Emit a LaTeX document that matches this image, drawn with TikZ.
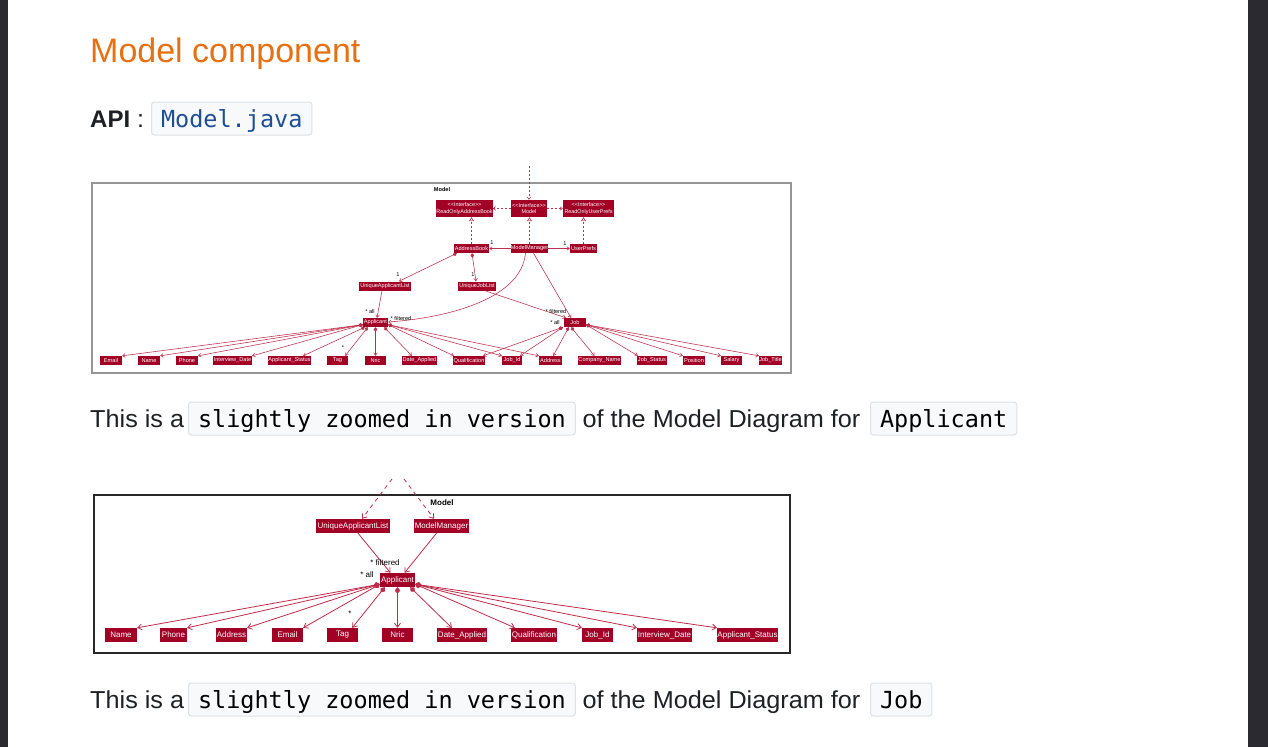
\documentclass[tikz,border=0pt]{standalone}
\usepackage{fontspec}
\setmainfont{Liberation Sans}
\newfontfamily\codefont{DejaVu Sans Mono}
\newfontfamily\bodyfont[FakeStretch=1.03]{Liberation Sans}
\usetikzlibrary{arrows.meta}
\definecolor{umlred}{RGB}{163,0,38}
\definecolor{umlline}{RGB}{190,45,75}
\definecolor{darkbar}{RGB}{43,42,48}
\definecolor{titleorange}{RGB}{230,112,18}
\definecolor{bodytext}{RGB}{30,32,36}
\definecolor{codebg}{RGB}{248,249,250}
\definecolor{codeborder}{RGB}{222,225,229}
\definecolor{codeblue}{RGB}{30,78,150}
\definecolor{frameone}{RGB}{150,150,150}
\definecolor{frametwo}{RGB}{40,40,40}
\tikzset{
  n1/.style={fill=umlred, text=white, inner sep=0pt, minimum height=9pt, font=\fontsize{5.6}{6}\selectfont, align=center},
  n2/.style={fill=umlred, text=white, inner sep=0pt, minimum height=14pt, font=\fontsize{8}{9}\selectfont},
  l1/.style={font=\fontsize{5.6}{6}\selectfont, inner sep=0pt, text=black},
  l2/.style={font=\fontsize{8}{9}\selectfont, inner sep=0pt, text=black},
  e1/.style={draw=umlline, line width=0.55pt},
  asc1/.style={e1, -{Straight Barb[length=2.5pt,width=3.6pt]}},
  cmp1/.style={e1, {Diamond[length=4.5pt,width=3.6pt]}-{Straight Barb[length=2.5pt,width=3.6pt]}},
  dep1/.style={e1, dash pattern=on 2pt off 2pt, -{Straight Barb[length=2.5pt,width=3.6pt]}},
  real1/.style={e1, dash pattern=on 2pt off 2pt, -{Triangle[open, length=4pt, width=5pt, fill=white]}},
  e2/.style={draw=umlline, line width=0.8pt},
  asc2/.style={e2, -{Straight Barb[length=4pt,width=6pt]}},
  cmp2/.style={e2, {Diamond[length=6.5pt,width=5.5pt]}-{Straight Barb[length=4pt,width=6pt]}},
  dep2/.style={e2, dash pattern=on 4pt off 4pt, -{Straight Barb[length=4pt,width=6pt]}},
  codebox/.style={draw=codeborder, fill=codebg, rounded corners=3pt, line width=1pt, inner xsep=9.5pt, inner ysep=6pt, text height=19pt, text depth=2pt, anchor=base west, font=\codefont\fontsize{23.5}{26}\selectfont},
  body/.style={anchor=base west, inner sep=0pt, text=bodytext, font=\bodyfont\fontsize{24.5}{28}\selectfont},
}
\begin{document}
\begin{tikzpicture}[x=1pt,y=-1pt]
\useasboundingbox (0,0) rectangle (1268,747);
\fill[white] (0,0) rectangle (1268,747);
\fill[darkbar] (0,0) rectangle (8,747);
\fill[darkbar] (1248,0) rectangle (1268,747);

% ---------- header ----------
\node[anchor=base west, inner sep=0pt, text=titleorange, font=\fontsize{34}{40}\selectfont] (title) at (90,62) {Model component};
\node[body, font=\bfseries\fontsize{24}{28}\selectfont] (api) at (90,127) {API};
\node[body] (colon) at (137,127) {:};
\node[codebox, text=codeblue] (apicode) at (151,127) {Model.java};

% ---------- diagram 1 ----------
\node[draw=frameone, line width=1.5pt, minimum width=699pt, minimum height=190pt, inner sep=0pt] (pkg1) at (441.5,278) {};
\node[l1, font=\bfseries\fontsize{5.6}{6}\selectfont] (pkg1name) at (442,189) {Model};

\node[n1, minimum width=55pt, minimum height=17pt, font=\fontsize{5.4}{6.3}\selectfont] (rab) at (464.5,208.5) {<{}<Interface>{}>\\ReadOnlyAddressBook};
\node[n1, minimum width=36pt, minimum height=17pt, font=\fontsize{5.4}{6.3}\selectfont] (model) at (529,208.5) {<{}<Interface>{}>\\Model};
\node[n1, minimum width=51pt, minimum height=17pt, font=\fontsize{5.4}{6.3}\selectfont] (rup) at (588.5,208.5) {<{}<Interface>{}>\\ReadOnlyUserPrefs};
\node[n1, minimum width=35pt] (ab) at (471.5,248.5) {AddressBook};
\node[n1, minimum width=37pt] (mm) at (529.5,248.5) {ModelManager};
\node[n1, minimum width=27pt] (up) at (583.5,248.5) {UserPrefs};
\node[n1, minimum width=52pt] (ual) at (385,286) {UniqueApplicantList};
\node[n1, minimum width=38pt] (ujl) at (477,286) {UniqueJobList};
\node[n1, minimum width=25pt] (app) at (375.5,322.5) {Applicant};
\node[n1, minimum width=22pt] (job) at (575,322.5) {Job};

\node[n1, minimum width=22pt] (email) at (111,360.5) {Email};
\node[n1, minimum width=22pt] (name) at (149,360.5) {Name};
\node[n1, minimum width=22pt] (phone) at (187,360.5) {Phone};
\node[n1, minimum width=39pt] (idate) at (232.5,360.5) {Interview\_Date};
\node[n1, minimum width=43pt] (astatus) at (289.5,360.5) {Applicant\_Status};
\node[n1, minimum width=21pt] (tag) at (337.5,360.5) {Tag};
\node[n1, minimum width=21pt] (nric) at (375.5,360.5) {Nric};
\node[n1, minimum width=35pt] (dapp) at (419.5,360.5) {Date\_Applied};
\node[n1, minimum width=32pt] (qual) at (469,360.5) {Qualification};
\node[n1, minimum width=20pt] (jobid) at (512,360.5) {Job\_Id};
\node[n1, minimum width=23pt] (addr) at (550.5,360.5) {Address};
\node[n1, minimum width=43pt] (cname) at (599.5,360.5) {Company\_Name};
\node[n1, minimum width=30pt] (jstatus) at (652,360.5) {Job\_Status};
\node[n1, minimum width=22pt] (pos) at (694,360.5) {Position};
\node[n1, minimum width=21pt] (sal) at (731.5,360.5) {Salary};
\node[n1, minimum width=23pt] (jtitle) at (770.5,360.5) {Job\_Title};

\coordinate (top1) at (529,166);
\draw[dep1] (top1) -- (model.north);
\draw[dep1] (model.west) -- (rab.east);
\draw[dep1] (model.east) -- (rup.west);
\draw[real1] (ab.north) -- (ab.north |- rab.south);
\draw[real1] (mm.north) -- (mm.north |- model.south);
\draw[real1] (up.north) -- (up.north |- rup.south);
\draw[asc1] (mm.west) -- (ab.east);
\draw[asc1] (mm.east) -- (up.west);
\draw[cmp1] ([xshift=3pt]ab.south west) -- ([xshift=14pt]ual.north);
\draw[cmp1] ([xshift=0.5pt]ab.south) -- ([xshift=-1pt]ujl.north);
\draw[asc1] ([xshift=-3pt]ual.south) -- ([xshift=1.5pt]app.north);
\draw[asc1] ([xshift=-4pt]mm.south) .. controls (521,300) and (445,318) .. ([yshift=0.5pt]app.east);
\draw[asc1] ([xshift=4pt]mm.south) -- ([xshift=-4pt]job.north);
\draw[asc1] ([xshift=8pt]ujl.south) -- ([xshift=2pt]job.north west);

\node[l1] (lab1) at (492,243) {1};
\node[l1] (lup1) at (565,244) {1};
\node[l1] (lual1) at (398,275) {1};
\node[l1] (lujl1) at (473,275) {1};
\node[l1] (lappall) at (370,311) {* all};
\node[l1] (lappfil) at (401,318.5) {* filtered};
\node[l1] (ljobfil) at (556,311) {* filtered};
\node[l1] (ljoball) at (555,322) {* all};
\node[l1] (ltag1) at (343,348) {*};

% Applicant compositions
\draw[cmp1] ([yshift=2.5pt]app.south west) -- (email.north east);
\draw[cmp1] ([yshift=2.5pt]app.south west) -- (name.north east);
\draw[cmp1] ([yshift=2.5pt]app.south west) -- (phone.north east);
\draw[cmp1] ([yshift=2.5pt]app.south west) -- (idate.north east);
\draw[cmp1] ([xshift=2pt]app.south west) -- ([xshift=-8pt]astatus.north east);
\draw[cmp1] ([xshift=5pt]app.south west) -- ([xshift=-3pt]tag.north east);
\draw[cmp1] (app.south) -- (nric.north);
\draw[cmp1] ([xshift=-4pt]app.south east) -- ([xshift=10pt]dapp.north west);
\draw[cmp1] ([yshift=2.5pt]app.south east) -- ([xshift=1pt]qual.north west);
\draw[cmp1] ([yshift=2.5pt]app.south east) -- (jobid.north west);
\draw[cmp1] ([yshift=2.5pt]app.south east) -- (addr.north west);
% Job compositions
\draw[cmp1] ([xshift=-1pt]job.south west) -- ([xshift=-2pt]qual.north east);
\draw[cmp1] ([xshift=-1pt]job.south west) -- ([xshift=-2pt]jobid.north east);
\draw[cmp1] ([xshift=5pt]job.south west) -- ([xshift=-9pt]addr.north east);
\draw[cmp1] ([xshift=-4pt]job.south) -- ([xshift=-5pt]cname.north);
\draw[cmp1] ([yshift=2.5pt]job.south east) -- ([xshift=1pt]jstatus.north west);
\draw[cmp1] ([yshift=2.5pt]job.south east) -- (pos.north west);
\draw[cmp1] ([yshift=2.5pt]job.south east) -- (sal.north west);
\draw[cmp1] ([yshift=2.5pt]job.south east) -- (jtitle.north west);

% ---------- paragraph 1 ----------
\node[body] (p1a) at (90,427) {This is a};
\node[codebox, text=black] (p1b) at (188,427) {slightly zoomed in version};
\node[body, anchor=base] (p1c) at (721.5,427) {of the Model Diagram for};
\node[codebox, text=black] (p1d) at (870,427) {Applicant};

% ---------- diagram 2 ----------
\node[draw=frametwo, line width=1.2pt, minimum width=696pt, minimum height=158pt, inner sep=0pt] (pkg2) at (442,574) {};
\node[l2, font=\bfseries\fontsize{8}{9}\selectfont] (pkg2name) at (442,503) {Model};

\node[n2, minimum width=74pt] (ualB) at (353,526) {UniqueApplicantList};
\node[n2, minimum width=55pt] (mmB) at (441.5,526) {ModelManager};
\node[n2, minimum width=35pt] (appB) at (397.5,580) {Applicant};

\node[n2, minimum width=32pt] (nameB) at (121,635) {Name};
\node[n2, minimum width=27pt] (phoneB) at (173.5,635) {Phone};
\node[n2, minimum width=31pt] (addrB) at (231.5,635) {Address};
\node[n2, minimum width=31pt] (emailB) at (287.5,635) {Email};
\node[n2, minimum width=31pt] (tagB) at (342.5,635) {Tag};
\node[n2, minimum width=31pt] (nricB) at (397.5,635) {Nric};
\node[n2, minimum width=50pt] (dappB) at (462,635) {Date\_Applied};
\node[n2, minimum width=46pt] (qualB) at (534,635) {Qualification};
\node[n2, minimum width=31pt] (jobidB) at (597.5,635) {Job\_Id};
\node[n2, minimum width=55pt] (idateB) at (664.5,635) {Interview\_Date};
\node[n2, minimum width=61pt] (astatusB) at (747.5,635) {Applicant\_Status};

\coordinate (topB1) at (392,479);
\coordinate (topB2) at (404,479);
\draw[dep2] (topB1) -- ([xshift=9pt]ualB.north);
\draw[dep2] (topB2) -- ([xshift=-7.5pt]mmB.north);
\draw[asc2] ([xshift=5pt]ualB.south) -- ([xshift=-7pt]appB.north);
\draw[asc2] ([xshift=-5pt]mmB.south) -- ([xshift=7pt]appB.north);
\node[l2] (lfilB) at (385,563) {* filtered};
\node[l2] (lallB) at (367,575) {* all};
\node[l2] (ltagB) at (350,614) {*};

\draw[cmp2] ([yshift=3pt]appB.south west) -- (nameB.north east);
\draw[cmp2] ([yshift=3pt]appB.south west) -- (phoneB.north east);
\draw[cmp2] ([yshift=3pt]appB.south west) -- (addrB.north east);
\draw[cmp2] ([yshift=3pt]appB.south west) -- (emailB.north east);
\draw[cmp2] ([xshift=5pt]appB.south west) -- ([xshift=-6pt]tagB.north east);
\draw[cmp2] (appB.south) -- (nricB.north);
\draw[cmp2] ([xshift=-5pt]appB.south east) -- ([xshift=15pt]dappB.north west);
\draw[cmp2] ([yshift=3pt]appB.south east) -- ([xshift=4pt]qualB.north west);
\draw[cmp2] ([yshift=3pt]appB.south east) -- (jobidB.north west);
\draw[cmp2] ([yshift=3pt]appB.south east) -- (idateB.north west);
\draw[cmp2] ([yshift=3pt]appB.south east) -- (astatusB.north west);

% ---------- paragraph 2 ----------
\node[body] (p2a) at (90,708) {This is a};
\node[codebox, text=black] (p2b) at (188,708) {slightly zoomed in version};
\node[body, anchor=base] (p2c) at (721.5,708) {of the Model Diagram for};
\node[codebox, text=black] (p2d) at (870,708) {Job};
\end{tikzpicture}
\end{document}
